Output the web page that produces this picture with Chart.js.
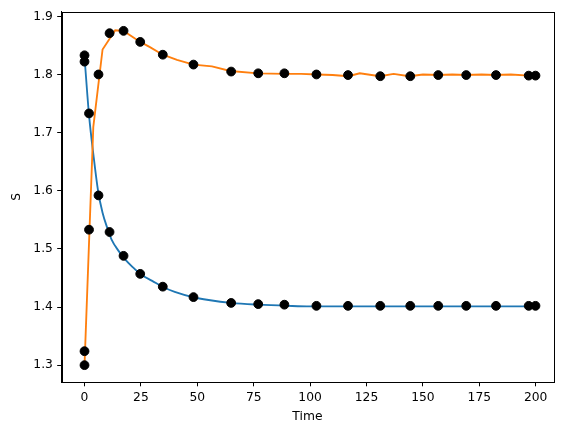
<!DOCTYPE html>
<html>
<head>
<meta charset="utf-8">
<script src="https://cdn.jsdelivr.net/npm/chart.js@4.4.1/dist/chart.umd.min.js"></script>
<style>
  body { margin: 0; background: #fff; }
  #wrap { width: 567px; height: 435px; }
</style>
</head>
<body>
<div id="wrap"><canvas id="sChart" width="567" height="435"></canvas></div>
<script>
// observed points (black dots)
const obsTime = [0, 0, 2, 6.2, 11.1, 17.3, 24.7, 34.7, 48.3, 65, 77, 88.6, 102.8, 116.8, 131.1, 144.4, 156.8, 169.2, 182.4, 196.9, 199.9];
const obsA = [1.833, 1.822, 1.733, 1.592, 1.529, 1.488, 1.457, 1.435, 1.417, 1.407, 1.405, 1.404, 1.402, 1.402, 1.402, 1.402, 1.402, 1.402, 1.402, 1.402, 1.402];
const obsB = [1.300, 1.324, 1.533, 1.800, 1.871, 1.875, 1.856, 1.834, 1.817, 1.805, 1.802, 1.802, 1.800, 1.799, 1.797, 1.797, 1.799, 1.799, 1.799, 1.798, 1.798];

// model curves
const blueTime = [0, 2, 4, 6, 8, 10, 12, 15, 18, 21, 25, 30, 35, 40, 48, 55, 65, 77, 90, 100, 120, 140, 160, 180, 200];
const blueS = [1.830, 1.730, 1.660, 1.600, 1.562, 1.537, 1.516, 1.497, 1.482, 1.470, 1.456, 1.445, 1.434, 1.426, 1.417, 1.412, 1.407, 1.404, 1.402, 1.401, 1.401, 1.401, 1.401, 1.401, 1.401];
const orangeTime = [0, 3.9, 8, 13.6, 17.3, 24.7, 29, 34.7, 41, 48.3, 56.5, 64.6, 77, 88.6, 96, 103, 110, 117, 122, 131, 137, 144, 150, 157, 163, 169, 176, 182, 189, 197, 200];
const orangeS = [1.300, 1.710, 1.843, 1.876, 1.875, 1.856, 1.847, 1.834, 1.825, 1.817, 1.814, 1.806, 1.802, 1.801, 1.801, 1.800, 1.799, 1.797, 1.802, 1.797, 1.801, 1.797, 1.800, 1.799, 1.800, 1.799, 1.800, 1.799, 1.800, 1.798, 1.798];

const xTicks = [0, 25, 50, 75, 100, 125, 150, 175, 200];
const yTicks = [1.3, 1.4, 1.5, 1.6, 1.7, 1.8, 1.9];

function pairs(xs, ys) {
    return xs.map((x, i) => ({ x: x, y: ys[i] }));
}

const FONT = { family: 'DejaVu Sans', size: 12.3 };

// top/right spines
const frame = {
    id: 'frame',
    afterDatasetsDraw(chart) {
        const a = chart.chartArea;
        const ctx = chart.ctx;
        ctx.save();
        ctx.strokeStyle = '#000';
        ctx.lineWidth = 1;
        ctx.strokeRect(Math.round(a.left) + 0.5, Math.round(a.top) + 0.5,
            Math.round(a.right - a.left), Math.round(a.bottom - a.top));
        ctx.restore();
    }
};

const ctx = document.getElementById('sChart').getContext('2d');
new Chart(ctx, {
    type: 'scatter',
    data: {
        datasets: [
            { data: pairs(obsTime, obsA), backgroundColor: '#000', borderColor: '#000', pointRadius: 4.4, order: 0 },
            { data: pairs(obsTime, obsB), backgroundColor: '#000', borderColor: '#000', pointRadius: 4.4, order: 0 },
            { data: pairs(blueTime, blueS), showLine: true, borderColor: '#1f77b4', borderWidth: 1.85,
              pointRadius: 0, cubicInterpolationMode: 'monotone', order: 2 },
            { data: pairs(orangeTime, orangeS), showLine: true, borderColor: '#ff7f0e', borderWidth: 1.85,
              pointRadius: 0, tension: 0, order: 1 }
        ]
    },
    options: {
        responsive: false,
        animation: false,
        devicePixelRatio: 1,
        layout: { padding: { left: 0, right: 13.7, top: 10.5, bottom: 0 } },
        plugins: { legend: { display: false }, tooltip: { enabled: false } },
        scales: {
            x: {
                type: 'linear', min: -10.2, max: 207.8,
                afterFit: s => { s.height = 53; },
                afterBuildTicks: s => { s.ticks = xTicks.map(v => ({ value: v })); },
                grid: { drawOnChartArea: false, drawTicks: true, tickLength: 4.3, tickColor: '#000', tickWidth: 1 },
                border: { display: true, color: '#000', width: 1 },
                ticks: { color: '#000', font: FONT, padding: 4.3, maxRotation: 0, autoSkip: false },
                title: { display: true, text: 'Time', color: '#000', font: FONT, padding: { top: 0, bottom: 10.5 } }
            },
            y: {
                type: 'linear', min: 1.271, max: 1.908,
                afterFit: s => { s.width = 61.5; },
                afterBuildTicks: s => { s.ticks = yTicks.map(v => ({ value: v })); },
                grid: { drawOnChartArea: false, drawTicks: true, tickLength: 4.3, tickColor: '#000', tickWidth: 1 },
                border: { display: true, color: '#000', width: 1 },
                ticks: { color: '#000', font: FONT, padding: 4.3, callback: v => v.toFixed(1) },
                title: { display: true, text: 'S', color: '#000', font: FONT, padding: { top: 9, bottom: 0 } }
            }
        }
    },
    plugins: [frame]
});
</script>
</body>
</html>
